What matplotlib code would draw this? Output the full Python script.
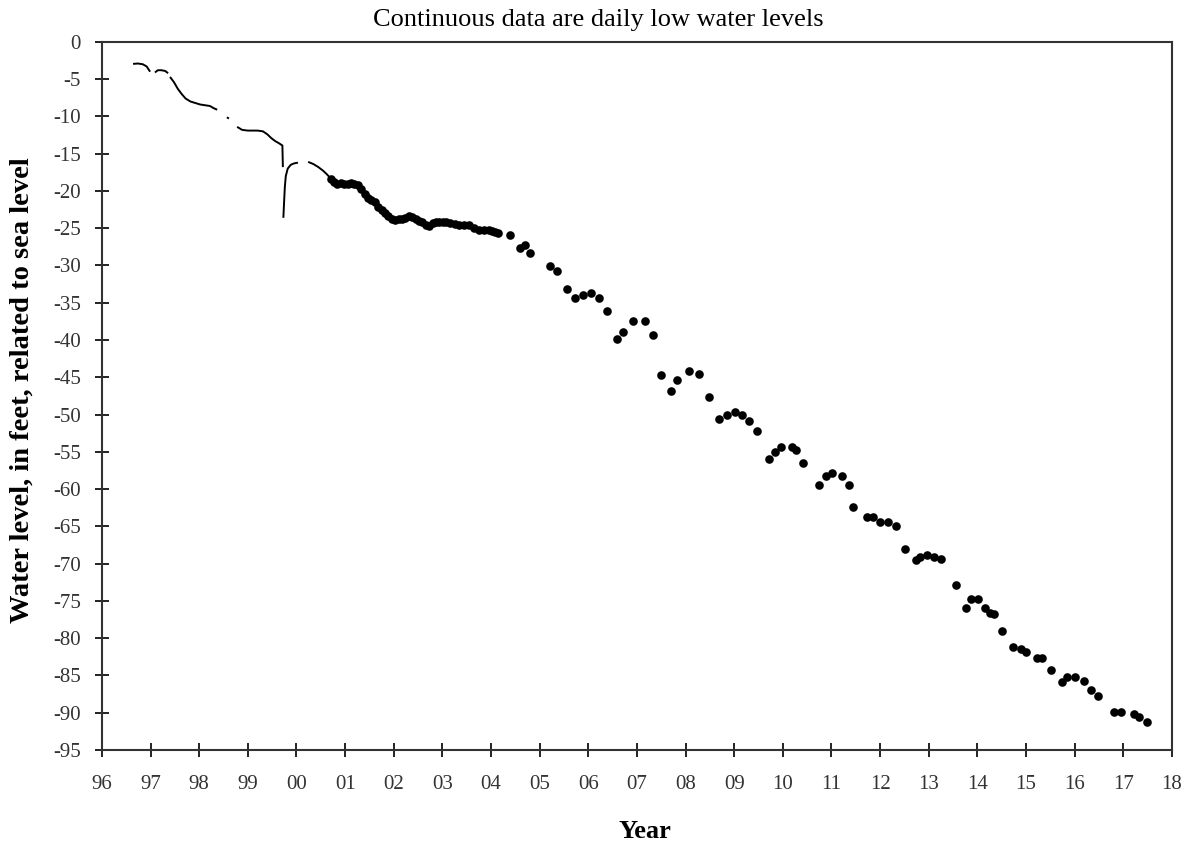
import matplotlib
matplotlib.use("Agg")
import matplotlib.pyplot as plt
from matplotlib.ticker import FixedLocator, FixedFormatter

plt.rcParams['font.family'] = ['Liberation Serif', 'DejaVu Serif']

# continuous daily record, split where the record has gaps
seg1_year = [1996.64, 1996.74, 1996.84, 1996.92, 1996.99]
seg1_level = [-2.95, -2.9, -3.0, -3.3, -4.0]
seg2_year = [1997.09, 1997.15, 1997.22, 1997.30, 1997.36]
seg2_level = [-4.1, -3.8, -3.8, -3.9, -4.2]
seg3_year = [1997.40, 1997.48, 1997.56, 1997.64, 1997.72, 1997.82, 1997.92, 1998.02, 1998.12, 1998.22, 1998.30, 1998.37]
seg3_level = [-4.7, -5.4, -6.3, -7.0, -7.6, -8.0, -8.2, -8.4, -8.5, -8.6, -8.9, -9.1]
seg4_year = [1998.57, 1998.61]
seg4_level = [-10.1, -10.3]
seg5_year = [1998.78, 1998.88, 1999.00, 1999.10, 1999.20, 1999.31, 1999.40, 1999.48, 1999.56, 1999.64, 1999.71, 1999.72]
seg5_level = [-11.4, -11.8, -11.9, -11.9, -11.9, -12.0, -12.4, -12.9, -13.3, -13.6, -13.9, -16.8]
seg6_year = [1999.73, 1999.745, 1999.76, 1999.78, 1999.82, 1999.88, 1999.95, 2000.03]
seg6_level = [-23.6, -21.5, -19.5, -18.0, -17.0, -16.5, -16.3, -16.2]
seg7_year = [2000.24, 2000.35, 2000.45, 2000.55, 2000.63, 2000.70]
seg7_level = [-16.1, -16.4, -16.8, -17.3, -17.8, -18.3]

# densely sampled record (overlapping dots)
dense_year = [2000.70, 2000.77, 2000.84, 2000.91, 2000.98, 2001.05, 2001.12, 2001.19, 2001.26,
              2001.33, 2001.40, 2001.47, 2001.54, 2001.61, 2001.68, 2001.75, 2001.82, 2001.89,
              2001.96, 2002.03, 2002.10, 2002.17, 2002.24, 2002.31, 2002.38, 2002.45, 2002.52,
              2002.59, 2002.66, 2002.73, 2002.80, 2002.87, 2002.94, 2003.01, 2003.08, 2003.15,
              2003.25, 2003.35, 2003.45, 2003.55, 2003.65, 2003.75, 2003.85, 2003.95, 2004.02,
              2004.08, 2004.14]
dense_level = [-18.4, -18.8, -19.0, -18.9, -19.1, -19.0, -18.9, -19.0, -19.2,
               -19.8, -20.4, -20.9, -21.2, -21.5, -22.2, -22.6, -22.9, -23.4,
               -23.8, -23.9, -23.8, -23.8, -23.6, -23.3, -23.5, -23.8, -24.0,
               -24.2, -24.5, -24.7, -24.3, -24.2, -24.2, -24.2, -24.2, -24.3,
               -24.4, -24.5, -24.6, -24.6, -25.0, -25.2, -25.2, -25.3, -25.4,
               -25.5, -25.7]

# periodic measurements
meas_year = [2004.40, 2004.60, 2004.70, 2004.81, 2005.22, 2005.36, 2005.56, 2005.73, 2005.89,
             2006.06, 2006.23, 2006.38, 2006.59, 2006.71, 2006.92, 2007.17, 2007.33, 2007.50,
             2007.70, 2007.83, 2008.07, 2008.28, 2008.49, 2008.68, 2008.85, 2009.01, 2009.16,
             2009.30, 2009.47, 2009.71, 2009.83, 2009.97, 2010.18, 2010.26, 2010.42, 2010.75,
             2010.88, 2011.01, 2011.21, 2011.37, 2011.45, 2011.73, 2011.86, 2011.99, 2012.16,
             2012.32, 2012.52, 2012.73, 2012.83, 2012.97, 2013.11, 2013.26, 2013.55, 2013.76,
             2013.86, 2014.01, 2014.15, 2014.26, 2014.34, 2014.50, 2014.73, 2014.89, 2014.99,
             2015.23, 2015.33, 2015.52, 2015.73, 2015.84, 2016.00, 2016.19, 2016.34, 2016.48,
             2016.81, 2016.96, 2017.22, 2017.32, 2017.49]
meas_level = [-25.9, -27.6, -27.2, -28.3, -30.1, -30.8, -33.2, -34.3, -34.0,
              -33.7, -34.3, -36.1, -39.9, -38.9, -37.5, -37.5, -39.3, -44.7,
              -46.9, -45.3, -44.1, -44.5, -47.7, -50.6, -50.1, -49.7, -50.0,
              -50.9, -52.2, -56.0, -55.0, -54.4, -54.4, -54.7, -56.5, -59.4,
              -58.2, -57.8, -58.2, -59.5, -62.4, -63.8, -63.8, -64.4, -64.4,
              -64.9, -68.1, -69.5, -69.1, -68.8, -69.1, -69.4, -72.9, -75.9,
              -74.8, -74.8, -75.9, -76.6, -76.7, -79.1, -81.2, -81.5, -81.9,
              -82.6, -82.6, -84.3, -85.9, -85.2, -85.2, -85.8, -86.9, -87.7,
              -89.9, -89.9, -90.2, -90.6, -91.2]

year_ticks = list(range(1996, 2019))
year_labels = ['%02d' % (y % 100) for y in year_ticks]
level_ticks = list(range(0, -96, -5))

fig = plt.figure(figsize=(11.91, 8.48), dpi=100)
ax = fig.add_axes([0.0856, 0.1156, 0.8984, 0.835])

for xs, ys in [(seg1_year, seg1_level), (seg2_year, seg2_level), (seg3_year, seg3_level),
               (seg4_year, seg4_level), (seg5_year, seg5_level), (seg6_year, seg6_level),
               (seg7_year, seg7_level)]:
    ax.plot(xs, ys, color='black', lw=1.4, solid_capstyle='butt')

ax.plot(dense_year, dense_level, 'o', color='black', ms=6.2, mec='black', mew=0)
ax.plot(meas_year, meas_level, 'o', color='black', ms=6.2, mec='black', mew=0)

ax.set_xlim(1996, 2018)
ax.set_ylim(-95, 0)
ax.xaxis.set_major_locator(FixedLocator(year_ticks))
ax.xaxis.set_major_formatter(FixedFormatter(year_labels))
ax.set_yticks(level_ticks)
ax.set_yticklabels([str(v) for v in level_ticks])

for sp in ax.spines.values():
    sp.set_linewidth(1.5)
    sp.set_color('#333333')
ax.tick_params(direction='inout', length=10, width=1.4, color='#222222',
               labelsize=15, labelcolor='#333333')
ax.tick_params(axis='y', pad=10)
ax.tick_params(axis='x', pad=13)

fig.text(598 / 1191, 1 - 20 / 848, 'Continuous data are daily low water levels',
         fontsize=19, ha='center', va='center')
fig.text(645 / 1191, 1 - 832 / 848, 'Year', fontsize=19, fontweight='bold',
         ha='center', va='center')
fig.text(22 / 1191, 1 - 390 / 848, 'Water level, in feet, related to sea level',
         fontsize=20.5, fontweight='bold', rotation=90, ha='center', va='center')

fig.savefig('out.png', dpi=100)
